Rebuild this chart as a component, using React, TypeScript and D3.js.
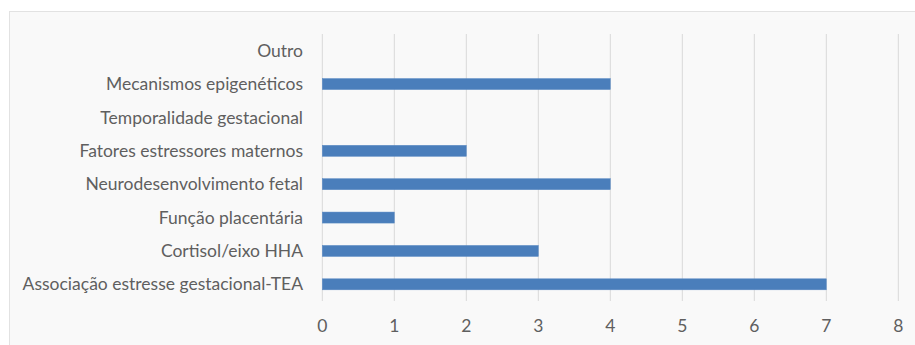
import React from "react";
import * as d3 from "d3";

const categories = [
  "Outro",
  "Mecanismos epigenéticos",
  "Temporalidade gestacional",
  "Fatores estressores maternos",
  "Neurodesenvolvimento fetal",
  "Função placentária",
  "Cortisol/eixo HHA",
  "Associação estresse gestacional-TEA",
];
const values = [0, 4, 0, 2, 4, 1, 3, 7];
const ticks = [0, 1, 2, 3, 4, 5, 6, 7, 8];

const W = 915;
const H = 345;
const FONT = "Lato, 'Open Sans', sans-serif";

export default function App() {
  const x = d3.scaleLinear().domain([0, 8]).range([322.3, 898.3]);
  const y = d3.scaleBand().domain(categories).range([34, 301]).paddingInner(0.67).paddingOuter(0.335);
  return (
    <svg width={W} height={H} style={{ position: "absolute", left: 0, top: 0, display: "block" }}>
      <rect x={9.5} y={11.5} width={W} height={H} fill="#f9f9f9" stroke="#e2e2e2" strokeWidth={1} />
      {ticks.map((t) => (
        <line key={t} x1={x(t)} x2={x(t)} y1={34} y2={301} stroke="#d9d9d9" strokeWidth={1} />
      ))}
      {categories.map((c, i) => (
        values[i] > 0 ? (
          <rect key={c} x={x(0)} y={y(c)} width={x(values[i]) - x(0)} height={y.bandwidth()} fill="#4a7ebb" stroke="#5a8ac4" strokeWidth={0.5} />
        ) : null
      ))}
      {categories.map((c) => (
        <text key={c} x={303} y={(y(c) as number) + y.bandwidth() / 2} dy="0.35em" textAnchor="end" fontFamily={FONT} fontSize={17.5} fill="#5f5f5f">
          {c}
        </text>
      ))}
      {ticks.map((t) => (
        <text key={t} x={x(t)} y={326} dy="0.35em" textAnchor="middle" fontFamily={FONT} fontSize={17.5} fill="#5f5f5f">
          {t}
        </text>
      ))}
    </svg>
  );
}
